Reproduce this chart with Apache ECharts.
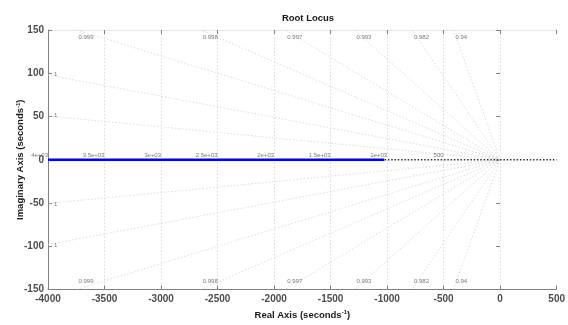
<!DOCTYPE html>
<html>
<head>
<meta charset="utf-8">
<script src="https://cdn.jsdelivr.net/npm/echarts@6/dist/echarts.min.js"></script>
<style>
  html, body { margin: 0; padding: 0; background: #fff; }
  #chart { width: 568px; height: 325px; }
</style>
</head>
<body>
<div id="chart"></div>
<script>
// root locus branch on the real axis
const locusX = [-4000, -1025]
const realAxisX = [-4000, 500]

// damping ratio grid (sgrid) and their labels
const dampingRatios = [0.94, 0.982, 0.9933, 0.9969, 0.9984, 0.9992, 0.9997, 0.99992]
const dampingLabels = ['0.94', '0.982', '0.993', '0.997', '0.998', '0.999', '1', '1']

// natural frequency grid labels
const freqValues = [4000, 3500, 3000, 2500, 2000, 1500, 1000, 500]
const freqLabels = ['4e+03', '3.5e+03', '3e+03', '2.5e+03', '2e+03', '1.5e+03', '1e+03', '500']

const xMin = -4000, xMax = 500, yMax = 150
const FONT = 'Liberation Sans'

const chart = echarts.init(document.getElementById('chart'))

// where a damping line leaves the plot box (upper half)
const lineEnd = (z) => {
  const s = Math.sqrt(1 - z * z) / z
  const xTop = -yMax / s
  if (xTop >= xMin) return [xTop, yMax, 'top']
  return [xMin, -xMin * s, 'left']
}

const gridLineStyle = { color: '#d2d2d2', width: 0.8, type: [1.5, 2] }

const dampingSeries = []
const dampingLabelData = []
dampingRatios.forEach((z, i) => {
  const [ex, ey, side] = lineEnd(z)
  dampingSeries.push({
    type: 'line', silent: true, showSymbol: false,
    lineStyle: gridLineStyle, z: 1,
    data: [[0, 0], [ex, ey]]
  })
  dampingSeries.push({
    type: 'line', silent: true, showSymbol: false,
    lineStyle: gridLineStyle, z: 1,
    data: [[0, 0], [ex, -ey]]
  })
  if (side === 'top') {
    dampingLabelData.push({ value: [ex, ey], name: dampingLabels[i], label: { offset: [2, 7] } })
    dampingLabelData.push({ value: [ex, -ey], name: dampingLabels[i], label: { offset: [2, -8] } })
  } else {
    dampingLabelData.push({ value: [ex, ey], name: dampingLabels[i], label: { offset: [6, -1] } })
    dampingLabelData.push({ value: [ex, -ey], name: dampingLabels[i], label: { offset: [6, 1] } })
  }
})

const freqLabelData = freqValues.map((f, i) => ({ value: [-f, 0], name: freqLabels[i] }))

const nameRich = {
  t: { fontFamily: FONT, fontSize: 9.5, fontWeight: 'bold', color: '#1a1a1a' },
  s: { fontFamily: FONT, fontSize: 6, fontWeight: 'bold', color: '#1a1a1a', verticalAlign: 'top', padding: [0, 0, 5, 0] }
}

const option = {
  animation: false,
  title: {
    text: 'Root Locus',
    left: 303, top: 8, textAlign: 'center',
    textStyle: { fontFamily: FONT, fontSize: 9.5, fontWeight: 'bold', color: '#1a1a1a' }
  },
  grid: { left: 48, right: 10, top: 30, bottom: 34 },
  xAxis: [
    {
      type: 'value', position: 'bottom', min: xMin, max: xMax, interval: 500,
      name: '{t|Real Axis (seconds}{s|-1}{t|)}',
      nameLocation: 'middle', nameGap: 20, nameMoveOverlap: false,
      nameTextStyle: { rich: nameRich },
      axisLine: { onZero: false, lineStyle: { color: '#808080', width: 1 } },
      axisTick: { inside: true, length: 4, lineStyle: { color: '#808080' } },
      axisLabel: {
        margin: 5, fontFamily: FONT, fontSize: 10, fontWeight: 'bold', color: '#4d4d4d',
        formatter: (v) => String(v)
      },
      splitLine: { show: true, showMinLine: false, showMaxLine: false, lineStyle: gridLineStyle }
    },
    {
      type: 'value', position: 'top', min: xMin, max: xMax, interval: 500,
      axisLine: { onZero: false, lineStyle: { color: '#e6e6e6', width: 1 } },
      axisTick: { inside: true, length: 4, lineStyle: { color: '#808080' } },
      axisLabel: { show: false },
      splitLine: { show: false }
    }
  ],
  yAxis: [
    {
      type: 'value', position: 'left', min: -yMax, max: yMax, interval: 50,
      name: '{t|Imaginary Axis (seconds}{s|-1}{t|)}',
      nameLocation: 'middle', nameGap: 22, nameRotate: 90, nameMoveOverlap: false,
      nameTextStyle: { rich: nameRich },
      axisLine: { show: true, onZero: false, lineStyle: { color: '#808080', width: 1 } },
      axisTick: { show: true, inside: true, length: 4, lineStyle: { color: '#808080' } },
      axisLabel: { margin: 4, fontFamily: FONT, fontSize: 10, fontWeight: 'bold', color: '#4d4d4d' },
      splitLine: { show: false }
    },
    {
      type: 'value', position: 'right', min: -yMax, max: yMax, interval: 50,
      axisLine: { show: false },
      axisTick: { show: true, inside: true, length: 4, lineStyle: { color: '#808080' } },
      axisLabel: { show: false },
      splitLine: { show: false }
    }
  ],
  series: [
    ...dampingSeries,
    {
      type: 'scatter', silent: true, symbolSize: 0, z: 3,
      data: dampingLabelData,
      label: {
        show: true, position: 'right', distance: 0,
        formatter: (p) => p.name,
        fontFamily: FONT, fontSize: 6, color: '#555'
      }
    },
    {
      type: 'scatter', silent: true, symbolSize: 0, z: 3,
      data: freqLabelData,
      label: {
        show: true, position: 'left', distance: 0, offset: [0, -4],
        formatter: (p) => p.name,
        fontFamily: FONT, fontSize: 6, color: '#555'
      }
    },
    {
      type: 'line', silent: true, showSymbol: false, z: 4,
      lineStyle: { color: '#333', width: 1.4, type: [1.5, 1.8] },
      data: realAxisX.map((x) => [x, 0])
    },
    {
      type: 'line', silent: true, showSymbol: false, z: 5,
      lineStyle: { color: '#0000ff', width: 2.5 },
      data: locusX.map((x) => [x, 0])
    }
  ]
}

chart.setOption(option)
</script>
</body>
</html>
